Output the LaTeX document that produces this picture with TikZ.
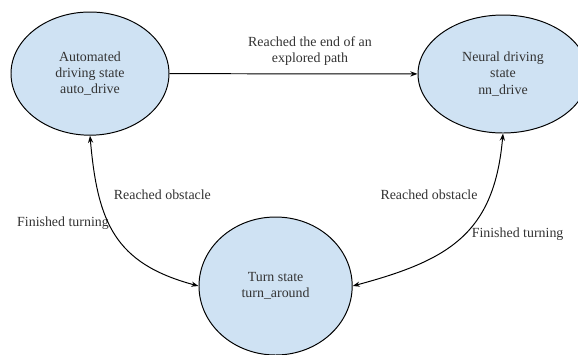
\documentclass[tikz,border=0pt]{standalone}
\usepackage{fontspec}
\setmainfont{Liberation Serif}
\usetikzlibrary{shapes.geometric, arrows.meta, positioning}

\definecolor{statefill}{HTML}{CFE2F3}
\definecolor{txtgray}{HTML}{333333}

\begin{document}
\begin{tikzpicture}[
    state/.style={ellipse, draw, line width=0.7pt, fill=statefill, align=center, text=txtgray, font=\rmfamily\fontsize{9.9}{11.6}\selectfont},
    lbl/.style={align=center, text=txtgray, font=\rmfamily\fontsize{9.9}{11.6}\selectfont},
    arrow/.style={line width=0.7pt, -{Stealth[length=1.8mm, width=1.3mm]}},
    darrow/.style={line width=0.7pt, {Stealth[length=1.8mm, width=1.3mm]}-{Stealth[length=1.8mm, width=1.3mm]}}
]
\useasboundingbox (0,0) rectangle (14.45,-8.85);

% States
\node[state, minimum width=3.95cm, minimum height=3.08cm] (auto) at (2.25, -1.84) {Automated\\driving state\\auto\_drive};
\node[state, minimum width=4.25cm, minimum height=2.95cm] (nn) at (12.575, -1.85) {Neural driving\\state\\nn\_drive};
\node[state, minimum width=3.83cm, minimum height=3.45cm] (turn) at (6.89, -7.15) {Turn state\\turn\_around};

% Labels
\node[lbl] (l1) at (7.75, -1.28) {Reached the end of an\\explored path};
\node[lbl] (l2) at (4.06, -4.875) {Reached obstacle};
\node[lbl] (l3) at (1.575, -5.575) {Finished turning};
\node[lbl] (l4) at (10.725, -4.875) {Reached obstacle};
\node[lbl] (l5) at (12.94, -5.85) {Finished turning};

% Transitions
\draw[arrow] (auto) -- (nn);
\draw[darrow] (auto.south) to[out=-85, in=165, looseness=1.2] (turn.west);
\draw[darrow] (nn.south) to[out=-95, in=15, looseness=1.2] (turn.east);
\end{tikzpicture}
\end{document}
